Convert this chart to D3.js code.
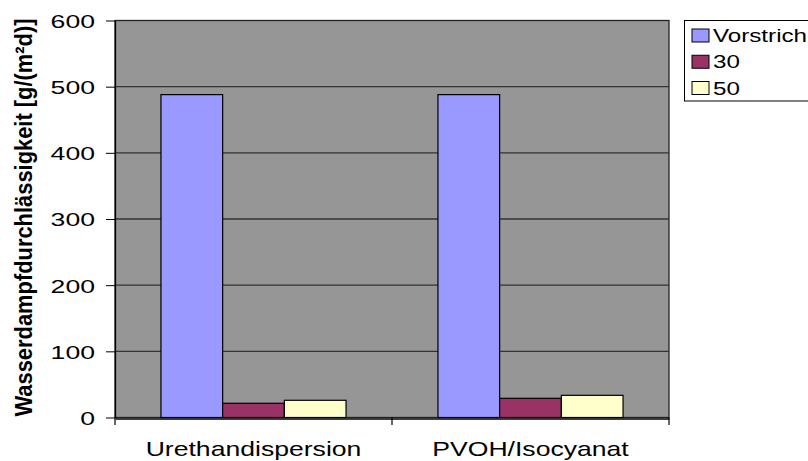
<!DOCTYPE html>
<html>
<head>
<meta charset="utf-8">
<script src="https://cdn.jsdelivr.net/npm/d3@7"></script>
<style>
  html, body { margin: 0; padding: 0; background: #fff; }
  svg { display: block; }
  text { font-family: "Liberation Sans", Arial, sans-serif; fill: #000; }
</style>
</head>
<body>
<svg id="chart" width="808" height="461"></svg>
<script>
// Wasserdampfdurchlässigkeit je Beschichtung
const categories = ["Urethandispersion", "PVOH/Isocyanat"];
const seriesNames = ["Vorstrich", "30", "50"];
const vorstrich = [488, 488];
const s30 = [21.5, 29];
const s50 = [26, 33.5];
const yTicks = [0, 100, 200, 300, 400, 500, 600];
const colors = ["#9999ff", "#993366", "#ffffcc"];

const seriesValues = [vorstrich, s30, s50];

const svg = d3.select("#chart");
const plot = { left: 115, top: 20.5, right: 669, bottom: 417.5 };

const x = d3.scaleBand().domain(categories).range([plot.left, plot.right]).paddingInner(0).paddingOuter(0);
const xs = d3.scaleBand().domain(seriesNames).range([0, x.bandwidth()]).paddingInner(0).paddingOuter(0.745);
const y = d3.scaleLinear().domain([0, 600]).range([plot.bottom, plot.top]);

// plot area
svg.append("rect")
  .attr("x", plot.left).attr("y", plot.top)
  .attr("width", plot.right - plot.left).attr("height", plot.bottom - plot.top)
  .attr("fill", "#969696").attr("stroke", "#222").attr("stroke-width", 1.3);

// gridlines
svg.append("g").selectAll("line").data(yTicks.filter(t => t > 0 && t < 600)).join("line")
  .attr("x1", plot.left).attr("x2", plot.right)
  .attr("y1", d => y(d)).attr("y2", d => y(d))
  .attr("stroke", "#333").attr("stroke-width", 1.4);

// bars
const groups = svg.append("g").selectAll("g").data(categories).join("g")
  .attr("transform", d => `translate(${x(d)},0)`);
groups.selectAll("rect")
  .data((c, i) => seriesNames.map((s, j) => ({ s, v: seriesValues[j][i], c: colors[j] })))
  .join("rect")
  .attr("x", d => xs(d.s)).attr("width", xs.bandwidth())
  .attr("y", d => y(d.v)).attr("height", d => y(0) - y(d.v))
  .attr("fill", d => d.c).attr("stroke", "#000").attr("stroke-width", 1.2);

// y axis
const yAxis = d3.axisLeft(y).tickValues(yTicks).tickSize(9).tickPadding(11).tickSizeOuter(0);
const gy = svg.append("g").attr("transform", `translate(${plot.left},0)`).call(yAxis);
gy.select(".domain").attr("stroke", "#000").attr("stroke-width", 1.3);
gy.selectAll(".tick line").attr("stroke", "#000");
gy.selectAll(".tick text")
  .attr("font-size", 19)
  .attr("dy", "0.36em")
  .each(function() {
    const t = d3.select(this);
    const xPos = +t.attr("x");
    t.attr("x", null).attr("transform", `translate(${xPos},0) scale(1.4,1)`);
  });

// x axis
const xAxis = d3.axisBottom(x).tickSize(7).tickPadding(0).tickSizeOuter(0);
const gx = svg.append("g").attr("transform", `translate(0,${plot.bottom + 1})`).call(xAxis);
gx.select(".domain").attr("stroke", "#000").attr("stroke-width", 1.5);
gx.selectAll(".tick").remove();
// category separators below the axis
svg.append("g").selectAll("line")
  .data([plot.left, x(categories[1]), plot.right]).join("line")
  .attr("x1", d => d).attr("x2", d => d)
  .attr("y1", plot.bottom).attr("y2", plot.bottom + 7.5)
  .attr("stroke", "#000").attr("stroke-width", 1.2);
svg.append("g").selectAll("text").data(categories).join("text")
  .attr("transform", d => `translate(${x(d) + x.bandwidth() / 2},456) scale(1.33,1)`)
  .attr("text-anchor", "middle")
  .attr("font-size", 20)
  .text(d => d);

// y axis title
svg.append("text")
  .attr("transform", `translate(23,${(18 + 417) / 2}) scale(1.2,1) rotate(-90)`)
  .attr("text-anchor", "middle")
  .attr("dy", "0.36em")
  .attr("font-size", 20)
  .attr("font-weight", "bold")
  .attr("textLength", 398)
  .attr("lengthAdjust", "spacingAndGlyphs")
  .text("Wasserdampfdurchlässigkeit [g/(m²d)]");

// legend
const lg = svg.append("g");
lg.append("rect")
  .attr("x", 684.5).attr("y", 20.5).attr("width", 140).attr("height", 80.5)
  .attr("fill", "#fff").attr("stroke", "#000");
const rowY = d3.scalePoint().domain(seriesNames).range([35.5, 88]);
lg.selectAll(".sw").data(seriesNames).join("rect").attr("class", "sw")
  .attr("x", 692).attr("y", d => rowY(d) - 6.5).attr("width", 17).attr("height", 13)
  .attr("fill", (d, i) => colors[i]).attr("stroke", "#000");
lg.selectAll(".lt").data(seriesNames).join("text").attr("class", "lt")
  .attr("transform", d => `translate(713,${rowY(d)}) scale(1.3,1)`)
  .attr("dy", "0.36em")
  .attr("font-size", 18.6)
  .text(d => d);
</script>
</body>
</html>
